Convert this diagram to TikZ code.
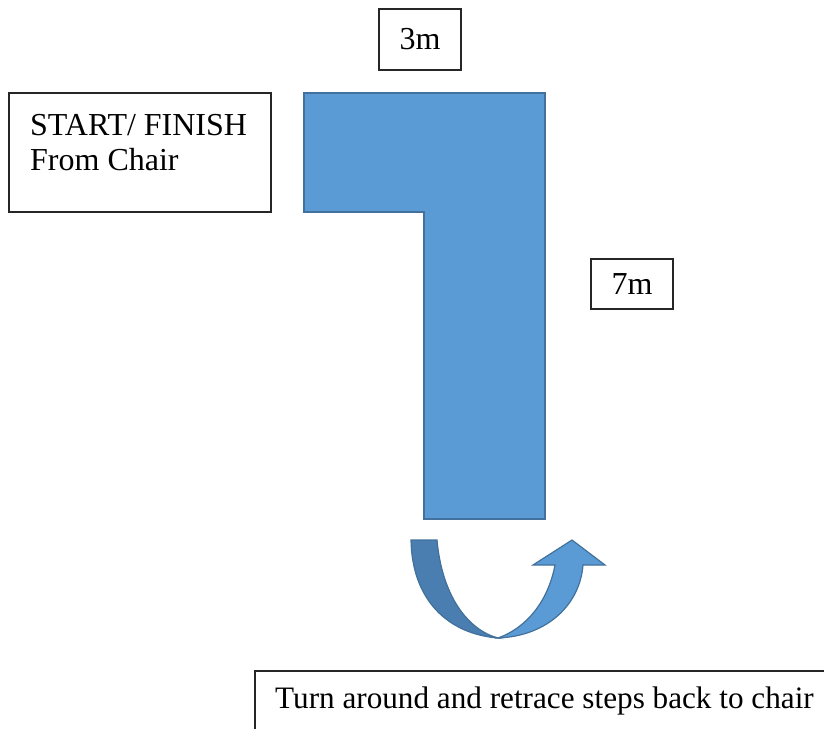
\documentclass[tikz,border=0pt]{standalone}
\usepackage{fontspec}
\setmainfont{Liberation Serif}
\definecolor{shapefill}{HTML}{5B9BD5}
\definecolor{shapeline}{HTML}{41719C}
\definecolor{darkside}{HTML}{4A7DB0}
\begin{document}
\begin{tikzpicture}[x=1pt,y=-1pt,
  lbox/.style={draw=black!85,line width=1.2pt,fill=white},
  lbl/.style={font=\fontsize{32}{35}\selectfont,inner sep=0pt},
  blueshape/.style={fill=shapefill,draw=shapeline,line width=2pt,line join=miter},
  arrowpart/.style={draw=shapeline,line width=1.2pt,line join=miter}]
\useasboundingbox (0,0) rectangle (824,729);
% blue path shape
\path[blueshape] (304,93) -- (545,93) -- (545,519) -- (424,519) -- (424,212) -- (304,212) -- cycle;
% boxes
\node[lbox,minimum width=82pt,minimum height=61pt,inner sep=0pt] (b3) at (420,39.5) {};
\node[lbl] (t3) at (b3.center) {3m};
\node[lbox,minimum width=82pt,minimum height=50pt,inner sep=0pt] (b7) at (632,284) {};
\node[lbl] (t7) at (b7.center) {7m};
\node[lbox,minimum width=262pt,minimum height=119pt,inner sep=0pt] (bs) at (140,152.5) {};
\node[lbl,anchor=base west] (ts1) at (30,135) {START/ FINISH};
\node[lbl,anchor=base west] (ts2) at (30,170) {From Chair};
\draw[draw=black!85,line width=1.2pt] (255,729) -- (255,671) -- (826,671);
\node[lbl,font=\fontsize{31.2}{35}\selectfont,anchor=base west] (tb) at (275,708) {Turn around and retrace steps back to chair};
% U-turn arrow
\path[arrowpart,fill=darkside] (411,540) -- (437,540)
  .. controls (442,596) and (468,630) .. (498,638)
  .. controls (448,634) and (412,600) .. (411,540) -- cycle;
\path[arrowpart,fill=shapefill] (498,638)
  .. controls (548,636) and (580,604) .. (583,565)
  -- (605,565) -- (572,540) -- (533,565) -- (555,565)
  .. controls (548,602) and (526,628) .. (498,638) -- cycle;
\end{tikzpicture}
\end{document}
